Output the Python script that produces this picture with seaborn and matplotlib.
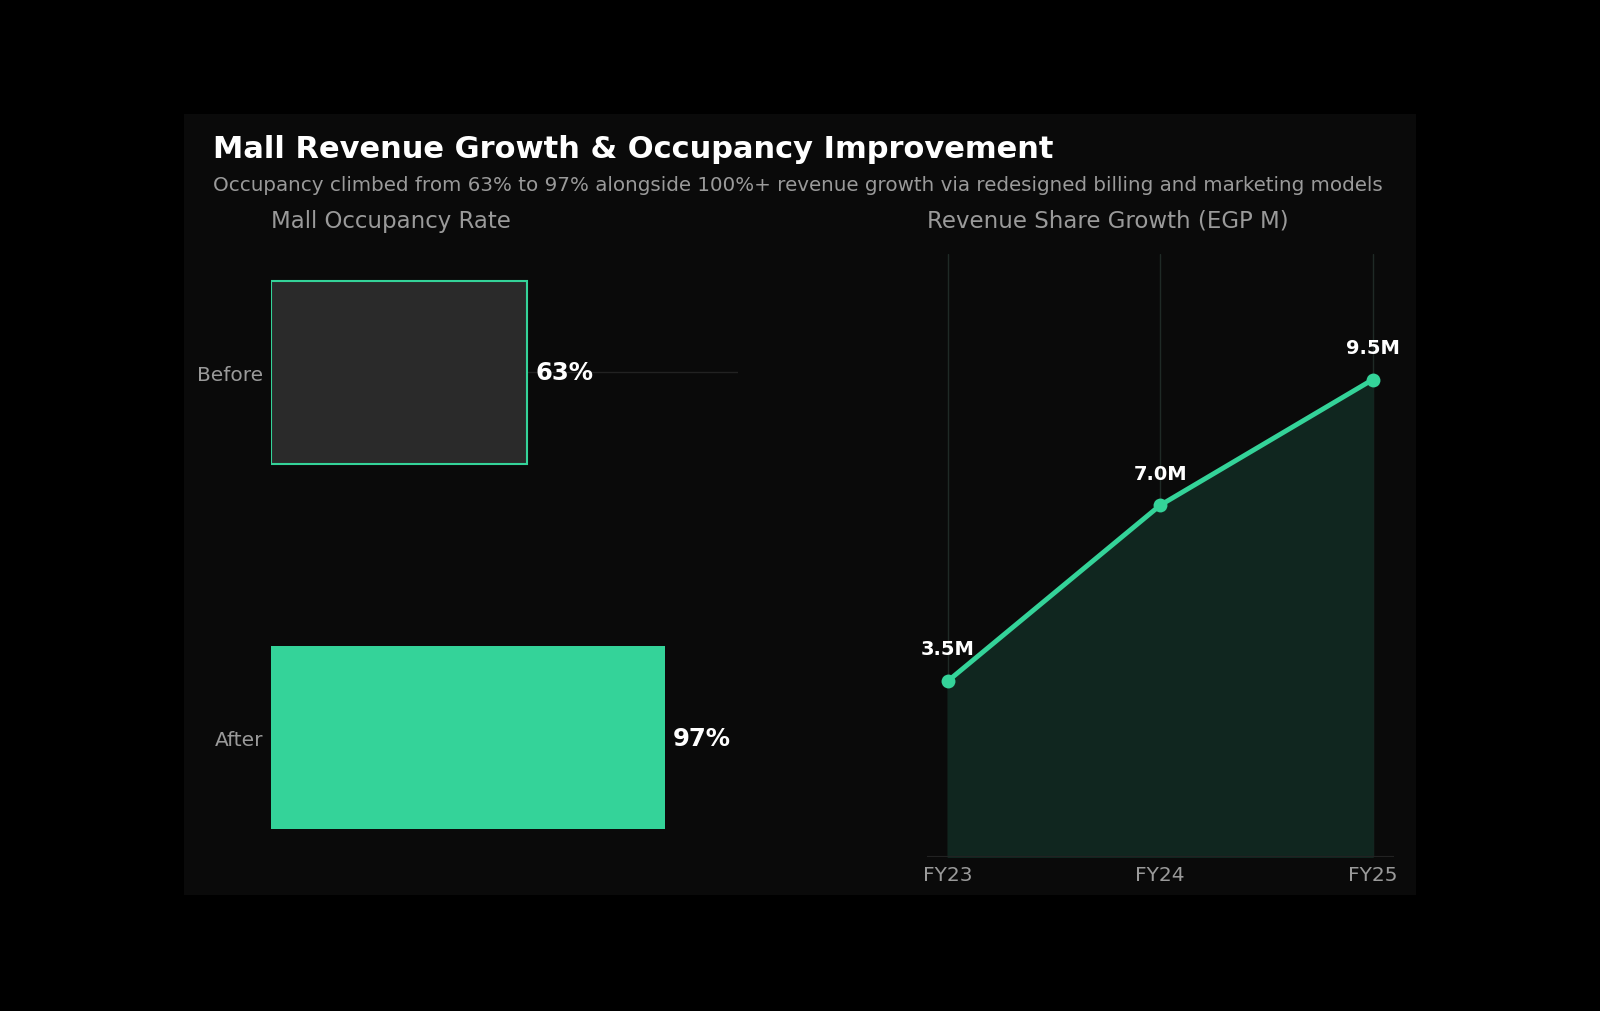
import matplotlib
matplotlib.use("Agg")
import matplotlib.pyplot as plt
import seaborn as sns
import pandas as pd

stages = ["Before", "After"]
occupancy = [63, 97]
occ_labels = ["63%", "97%"]
years = ["FY23", "FY24", "FY25"]
revenue = [3.5, 7.0, 9.5]
rev_labels = ["3.5M", "7.0M", "9.5M"]

GREEN = "#34d399"
sns.set_style("dark")
plt.rcParams['font.family'] = ['DejaVu Sans']

W, H = 1568.0, 992.0
fig = plt.figure(figsize=(16, 10.12), dpi=100, facecolor="black")
panel = fig.add_axes([180/W, 1-878/H, 1208/W, 765/H])
panel.set_facecolor("#0a0a0a"); panel.set_xticks([]); panel.set_yticks([])
for s in panel.spines.values(): s.set_visible(False)

fig.text(209/W, 1-147/H, "Mall Revenue Growth & Occupancy Improvement", color="white",
         fontsize=22, fontweight="bold", va="center")
fig.text(209/W, 1-182/H, "Occupancy climbed from 63% to 97% alongside 100%+ revenue growth via redesigned billing and marketing models",
         color="#9a9a9a", fontsize=14.3, va="center")

# Left: bars
ax1 = fig.add_axes([266/W, 1-840/H, 457/W, 590/H])
ax1.set_facecolor("#0a0a0a")
df1 = pd.DataFrame({"stage": stages, "occ": occupancy})
sns.barplot(data=df1, x="occ", y="stage", ax=ax1, width=0.5, orient="h")
colors = ["#2a2a2a", GREEN]
for p, c in zip(ax1.patches, colors):
    p.set_facecolor(c); p.set_edgecolor(GREEN); p.set_linewidth(1.5 if c != GREEN else 0)
ax1.set_xlim(0, 115)
ax1.set_ylim(1.324, -0.324)
ax1.axhline(0, color="#222222", lw=1, zorder=0)
for i, (v, l) in enumerate(zip(occupancy, occ_labels)):
    ax1.text(v + 2, i, l, color="white", fontsize=17.5, fontweight="bold", va="center")
ax1.set_xticks([])
ax1.tick_params(axis="y", colors="#9a9a9a", labelsize=14.5, length=0, pad=6)
ax1.set_xlabel(""); ax1.set_ylabel("")
for s in ax1.spines.values(): s.set_visible(False)
fig.text(266/W, 1-217/H, "Mall Occupancy Rate", color="#9a9a9a", fontsize=16.5, va="center")

# Right: line
ax2 = fig.add_axes([908/W, 1-841/H, 458/W, 591/H])
ax2.set_facecolor("#0a0a0a")
xs = list(range(len(years)))
ax2.fill_between(xs, revenue, 0, color="#10261f", zorder=1)
sns.lineplot(x=xs, y=revenue, ax=ax2, color=GREEN, lw=3.5, marker="o", markersize=10,
             markeredgewidth=0, zorder=3)
for x, v, l in zip(xs, revenue, rev_labels):
    ax2.text(x, v + 0.45, l, color="white", fontsize=14, fontweight="bold", ha="center", va="bottom")
ax2.set_xlim(-0.1, 2.1); ax2.set_ylim(0, 12)
ax2.set_xticks(xs); ax2.set_xticklabels(years)
ax2.set_yticks([])
for x in xs:
    ax2.axvline(x, color="#1f2a26", lw=1, zorder=0)
ax2.grid(False)
ax2.tick_params(axis="x", colors="#9a9a9a", labelsize=14.5, length=0, pad=6)
for s in ax2.spines.values(): s.set_visible(False)
ax2.axhline(0, color="#222222", lw=1.5, zorder=2)
fig.text(908/W, 1-217/H, "Revenue Share Growth (EGP M)", color="#9a9a9a", fontsize=16.5, va="center")

fig.savefig("out.png", facecolor="black")
